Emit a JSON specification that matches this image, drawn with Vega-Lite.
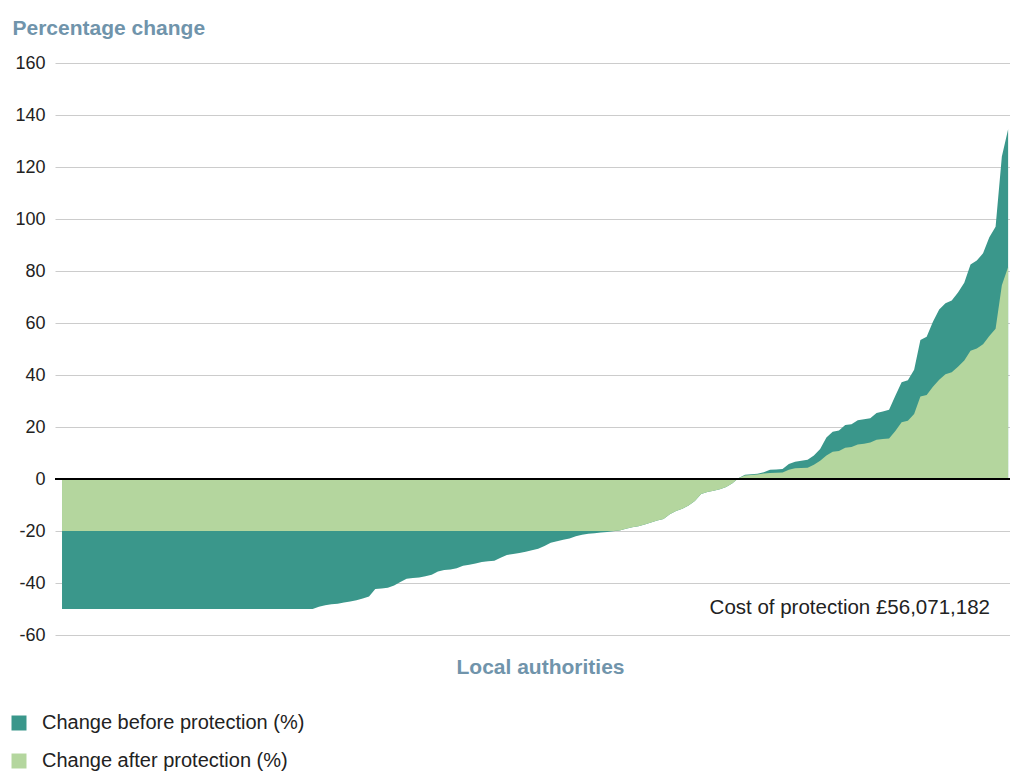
{
  "$schema": "https://vega.github.io/schema/vega-lite/v6.json",
  "width": 955,
  "height": 572,
  "autosize": {"type": "none"},
  "padding": {"left": 55, "top": 63, "right": 0, "bottom": 140},
  "config": {"view": {"stroke": null}, "font": "Liberation Sans"},
  "data": {"values": [
    {"i":1,"b":-50,"a":-20},{"i":2,"b":-50,"a":-20},{"i":3,"b":-50,"a":-20},{"i":4,"b":-50,"a":-20},{"i":5,"b":-50,"a":-20},
    {"i":6,"b":-50,"a":-20},{"i":7,"b":-50,"a":-20},{"i":8,"b":-50,"a":-20},{"i":9,"b":-50,"a":-20},{"i":10,"b":-50,"a":-20},
    {"i":11,"b":-50,"a":-20},{"i":12,"b":-50,"a":-20},{"i":13,"b":-50,"a":-20},{"i":14,"b":-50,"a":-20},{"i":15,"b":-50,"a":-20},
    {"i":16,"b":-50,"a":-20},{"i":17,"b":-50,"a":-20},{"i":18,"b":-50,"a":-20},{"i":19,"b":-50,"a":-20},{"i":20,"b":-50,"a":-20},
    {"i":21,"b":-50,"a":-20},{"i":22,"b":-50,"a":-20},{"i":23,"b":-50,"a":-20},{"i":24,"b":-50,"a":-20},{"i":25,"b":-50,"a":-20},
    {"i":26,"b":-50,"a":-20},{"i":27,"b":-50,"a":-20},{"i":28,"b":-50,"a":-20},{"i":29,"b":-50,"a":-20},{"i":30,"b":-50,"a":-20},
    {"i":31,"b":-50,"a":-20},{"i":32,"b":-50,"a":-20},{"i":33,"b":-50,"a":-20},{"i":34,"b":-50,"a":-20},{"i":35,"b":-50,"a":-20},
    {"i":36,"b":-50,"a":-20},{"i":37,"b":-50,"a":-20},{"i":38,"b":-50,"a":-20},{"i":39,"b":-50,"a":-20},{"i":40,"b":-50,"a":-20},
    {"i":41,"b":-50,"a":-20},{"i":42,"b":-49.1,"a":-20},{"i":43,"b":-48.6,"a":-20},{"i":44,"b":-48.2,"a":-20},{"i":45,"b":-48.0,"a":-20},
    {"i":46,"b":-47.5,"a":-20},{"i":47,"b":-47.1,"a":-20},{"i":48,"b":-46.6,"a":-20},{"i":49,"b":-46.0,"a":-20},{"i":50,"b":-45.2,"a":-20},
    {"i":51,"b":-42.3,"a":-20},{"i":52,"b":-42.1,"a":-20},{"i":53,"b":-41.8,"a":-20},{"i":54,"b":-41.0,"a":-20},{"i":55,"b":-39.6,"a":-20},
    {"i":56,"b":-38.4,"a":-20},{"i":57,"b":-38.1,"a":-20},{"i":58,"b":-37.9,"a":-20},{"i":59,"b":-37.4,"a":-20},{"i":60,"b":-36.8,"a":-20},
    {"i":61,"b":-35.6,"a":-20},{"i":62,"b":-35.0,"a":-20},{"i":63,"b":-34.8,"a":-20},{"i":64,"b":-34.3,"a":-20},{"i":65,"b":-33.4,"a":-20},
    {"i":66,"b":-33.0,"a":-20},{"i":67,"b":-32.5,"a":-20},{"i":68,"b":-31.9,"a":-20},{"i":69,"b":-31.6,"a":-20},{"i":70,"b":-31.4,"a":-20},
    {"i":71,"b":-30.3,"a":-20},{"i":72,"b":-29.2,"a":-20},{"i":73,"b":-28.8,"a":-20},{"i":74,"b":-28.5,"a":-20},{"i":75,"b":-28.0,"a":-20},
    {"i":76,"b":-27.4,"a":-20},{"i":77,"b":-26.8,"a":-20},{"i":78,"b":-25.8,"a":-20},{"i":79,"b":-24.5,"a":-20},{"i":80,"b":-23.9,"a":-20},
    {"i":81,"b":-23.4,"a":-20},{"i":82,"b":-22.9,"a":-20},{"i":83,"b":-22.0,"a":-20},{"i":84,"b":-21.4,"a":-20},{"i":85,"b":-21.1,"a":-20},
    {"i":86,"b":-20.9,"a":-20},{"i":87,"b":-20.6,"a":-20},{"i":88,"b":-20.4,"a":-20},{"i":89,"b":-20.1,"a":-20},{"i":90,"b":-19.8,"a":-19.8},
    {"i":91,"b":-19.1,"a":-19.1},{"i":92,"b":-18.6,"a":-18.6},{"i":93,"b":-18.2,"a":-18.2},{"i":94,"b":-17.5,"a":-17.5},{"i":95,"b":-16.7,"a":-16.7},
    {"i":96,"b":-16.0,"a":-16.0},{"i":97,"b":-15.4,"a":-15.4},{"i":98,"b":-13.6,"a":-13.6},{"i":99,"b":-12.3,"a":-12.3},{"i":100,"b":-11.4,"a":-11.4},
    {"i":101,"b":-10.2,"a":-10.2},{"i":102,"b":-8.5,"a":-8.5},{"i":103,"b":-5.8,"a":-5.8},{"i":104,"b":-5.0,"a":-5.0},{"i":105,"b":-4.5,"a":-4.5},
    {"i":106,"b":-3.9,"a":-3.9},{"i":107,"b":-3.1,"a":-3.1},{"i":108,"b":-1.6,"a":-1.6},{"i":109,"b":0.4,"a":0.4},{"i":110,"b":1.6,"a":1.3},
    {"i":111,"b":1.8,"a":1.5},{"i":112,"b":2.0,"a":1.7},{"i":113,"b":2.6,"a":2.1},{"i":114,"b":3.6,"a":2.3},{"i":115,"b":3.7,"a":2.4},
    {"i":116,"b":3.8,"a":2.5},{"i":117,"b":5.8,"a":3.6},{"i":118,"b":6.6,"a":4.1},{"i":119,"b":7.0,"a":4.2},{"i":120,"b":7.4,"a":4.3},
    {"i":121,"b":9.0,"a":5.5},{"i":122,"b":11.5,"a":7.0},{"i":123,"b":16.0,"a":9.0},{"i":124,"b":18.2,"a":10.5},{"i":125,"b":18.7,"a":10.8},
    {"i":126,"b":20.8,"a":12.0},{"i":127,"b":21.1,"a":12.3},{"i":128,"b":22.6,"a":13.3},{"i":129,"b":23.0,"a":13.6},{"i":130,"b":23.4,"a":14.0},
    {"i":131,"b":25.4,"a":15.1},{"i":132,"b":26.0,"a":15.4},{"i":133,"b":26.6,"a":15.6},{"i":134,"b":32.0,"a":18.5},{"i":135,"b":37.2,"a":21.8},
    {"i":136,"b":38.0,"a":22.4},{"i":137,"b":42.0,"a":25.0},{"i":138,"b":53.5,"a":31.7},{"i":139,"b":54.7,"a":32.3},{"i":140,"b":60.5,"a":35.5},
    {"i":141,"b":65.2,"a":38.2},{"i":142,"b":67.6,"a":40.3},{"i":143,"b":68.7,"a":41.1},{"i":144,"b":71.7,"a":43.2},{"i":145,"b":75.5,"a":45.6},
    {"i":146,"b":82.5,"a":49.3},{"i":147,"b":84.0,"a":50.2},{"i":148,"b":86.8,"a":51.8},{"i":149,"b":93.0,"a":55.0},{"i":150,"b":97.0,"a":57.8},
    {"i":151,"b":124.0,"a":74.5},{"i":152,"b":134.5,"a":81.5}
  ]},
  "layer": [
    {
      "mark": {"type": "area", "interpolate": "linear"},
      "encoding": {
        "x": {"field": "i", "type": "quantitative",
              "scale": {"domain": [-0.12, 152.3], "nice": false, "zero": false},
              "axis": {"title": "Local authorities", "labels": false, "ticks": false, "domain": false, "grid": false,
                       "titleFontSize": 21, "titleFontWeight": "bold", "titleColor": "#7094ab",
                       "titleX": 485, "titleY": 38, "titleBaseline": "alphabetic", "titleAlign": "center"}},
        "y": {"field": "b", "type": "quantitative", "stack": null,
              "scale": {"domain": [-60, 160], "nice": false},
              "axis": {"title": "Percentage change", "titleAngle": 0, "titleAlign": "left", "titleBaseline": "alphabetic",
                       "titleX": -43, "titleY": -29, "titleFontSize": 21, "titleFontWeight": "bold", "titleColor": "#7094ab",
                       "values": [-60, -40, -20, 0, 20, 40, 60, 80, 100, 120, 140, 160],
                       "labelExpr": "toString(datum.value)",
                       "domain": false, "ticks": false, "labelFontSize": 18, "labelColor": "#222222", "labelPadding": 10,
                       "gridColor": "#cccccc", "gridWidth": 1}},
        "y2": {"datum": 0},
        "color": {"datum": "Change before protection (%)", "type": "nominal",
                  "scale": {"domain": ["Change before protection (%)", "Change after protection (%)"], "range": ["#3a978b", "#b4d69e"]},
                  "legend": {"title": null, "orient": "none", "legendX": -46, "legendY": 650, "direction": "vertical",
                             "symbolType": "square", "symbolSize": 225, "symbolStrokeWidth": 0, "symbolOpacity": 1,
                             "labelFontSize": 20, "labelColor": "#222222", "labelOffset": 13, "rowPadding": 18, "labelLimit": 400}}
      }
    },
    {
      "mark": {"type": "area", "interpolate": "linear"},
      "encoding": {
        "x": {"field": "i", "type": "quantitative"},
        "y": {"field": "a", "type": "quantitative", "stack": null},
        "y2": {"datum": 0},
        "color": {"datum": "Change after protection (%)", "type": "nominal"}
      }
    },
    {
      "mark": {"type": "rule", "color": "#000000", "strokeWidth": 1},
      "encoding": {"y": {"datum": 0}}
    },
    {
      "data": {"values": [{"x": 149.1, "y": -52, "label": "Cost of protection £56,071,182"}]},
      "mark": {"type": "text", "align": "right", "baseline": "alphabetic", "fontSize": 20.5, "color": "#222222"},
      "encoding": {
        "x": {"field": "x", "type": "quantitative"},
        "y": {"field": "y", "type": "quantitative"},
        "text": {"field": "label"}
      }
    }
  ]
}
